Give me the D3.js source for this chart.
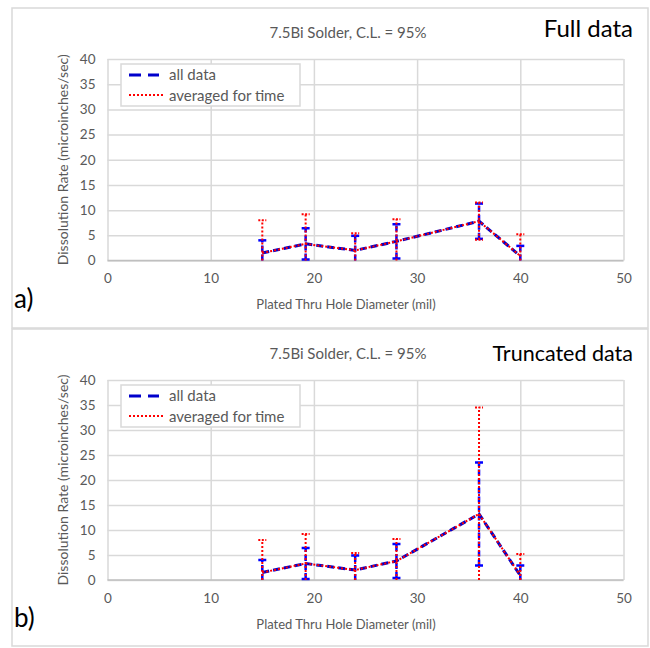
<!DOCTYPE html>
<html><head><meta charset="utf-8">
<script src="https://cdn.jsdelivr.net/npm/d3@7"></script>
<style>body{margin:0;background:#fff;} svg{display:block;}</style>
</head><body>
<script>
// ---- data ----
const xVals = [15, 19.2, 24, 28, 36, 40];
const meanFull = [1.5, 3.3, 2.0, 3.8, 7.8, 0.9];
const ciAllFull = [2.5, 3.1, 2.9, 3.4, 3.5, 2.0];
const ciAvgFull = [6.5, 5.9, 3.4, 4.4, 3.7, 4.3];
const meanTrunc = [1.5, 3.3, 2.0, 3.8, 13.2, 0.9];
const ciAllTrunc = [2.5, 3.1, 2.9, 3.4, 10.3, 2.0];
const ciAvgTrunc = [6.5, 5.9, 3.4, 4.4, 21.3, 4.3];
const xTicks = [0, 10, 20, 30, 40, 50];
const yTicks = [0, 5, 10, 15, 20, 25, 30, 35, 40];
const seriesNames = ["all data", "averaged for time"];
const chartTitle = "7.5Bi Solder, C.L. = 95%";
const panelTags = ["Full data", "Truncated data"];
const panelLetters = ["a)", "b)"];
const xLabel = "Plated Thru Hole Diameter (mil)";
const yLabel = "Dissolution Rate (microinches/sec)";

const W = 650, H = 648;
const FONT = "Lato, 'Open Sans', sans-serif";
const GRAY = "#595959";
const svg = d3.select("body").append("svg").attr("width", W).attr("height", H);

const panels = [
  {top: 8, bottom: 328, plotTop: 59, plotBottom: 260.5, mean: meanFull, ciAll: ciAllFull, ciAvg: ciAvgFull},
  {top: 329, bottom: 646, plotTop: 380, plotBottom: 580, mean: meanTrunc, ciAll: ciAllTrunc, ciAvg: ciAvgTrunc}
];

const plotLeft = 107.5, plotRight = 623.5;

panels.forEach((p, i) => {
  const g = svg.append("g");
  g.append("rect").attr("x", 12).attr("y", p.top).attr("width", 636).attr("height", p.bottom - p.top)
    .attr("fill", "#fff").attr("stroke", "#d9d9d9").attr("stroke-width", 1.5);

  const x = d3.scaleLinear().domain([0, 50]).range([plotLeft, plotRight]);
  const y = d3.scaleLinear().domain([0, 40]).range([p.plotBottom, p.plotTop]);

  // gridlines
  const gy = g.append("g").attr("transform", `translate(${plotLeft},0)`)
    .call(d3.axisLeft(y).tickValues(yTicks).tickSize(-(plotRight - plotLeft)).tickFormat(""));
  gy.select(".domain").remove();
  gy.selectAll("line").attr("stroke", "#d9d9d9").attr("stroke-width", 1.5);
  const gx = g.append("g").attr("transform", `translate(0,${p.plotTop})`)
    .call(d3.axisBottom(x).tickValues(xTicks).tickSize(p.plotBottom - p.plotTop).tickFormat(""));
  gx.select(".domain").remove();
  gx.selectAll("line").attr("stroke", "#d9d9d9").attr("stroke-width", 1.5);
  g.append("line").attr("x1", plotLeft).attr("x2", plotRight).attr("y1", y(0)).attr("y2", y(0))
    .attr("stroke", "#bfbfbf").attr("stroke-width", 1.5);

  // tick labels
  const ty = g.append("g").attr("transform", `translate(${plotLeft - 12},0)`)
    .call(d3.axisLeft(y).tickValues(yTicks).tickSize(0).tickPadding(0));
  ty.select(".domain").remove();
  ty.selectAll("text").attr("fill", GRAY).style("font-family", FONT).style("font-size", "13.5px");
  const tx = g.append("g").attr("transform", `translate(0,${p.plotBottom + 13})`)
    .call(d3.axisBottom(x).tickValues(xTicks).tickSize(0).tickPadding(0));
  tx.select(".domain").remove();
  tx.selectAll("text").attr("fill", GRAY).style("font-family", FONT).style("font-size", "13.5px");

  // titles
  g.append("text").attr("x", 348).attr("y", p.top + 25).attr("dy", "0.35em").attr("text-anchor", "middle")
    .attr("fill", GRAY).style("font-family", FONT).style("font-size", "15px").text(chartTitle);
  g.append("text").attr("x", 633).attr("y", p.top + (i === 0 ? 21 : 24)).attr("dy", "0.35em").attr("text-anchor", "end")
    .attr("fill", "#000").style("font-family", FONT).style("font-size", i === 0 ? "24px" : "21.5px").text(panelTags[i]);
  g.append("text").attr("x", 346).attr("y", p.plotBottom + 44).attr("dy", "0.35em").attr("text-anchor", "middle")
    .attr("fill", GRAY).style("font-family", FONT).style("font-size", "13px").text(xLabel);
  g.append("text").attr("transform", `translate(63,${(p.plotTop + p.plotBottom) / 2}) rotate(-90)`)
    .attr("dy", "0.35em").attr("text-anchor", "middle")
    .attr("fill", GRAY).style("font-family", FONT).style("font-size", "14px").text(yLabel);
  g.append("text").attr("x", 14).attr("y", p.plotBottom + 38).attr("dy", "0.35em")
    .attr("fill", "#000").style("font-family", FONT).style("font-size", "26px").text(panelLetters[i]);

  // series
  const pts = xVals.map((xv, k) => ({x: xv, m: p.mean[k], a: p.ciAll[k], v: p.ciAvg[k]}));
  const line = d3.line().x(d => x(d.x)).y(d => y(d.m));
  const capW = 4;
  function errBars(key, color, dash, width) {
    const eg = g.append("g");
    pts.forEach(d => {
      const lo = Math.max(0, d.m - d[key]), hi = d.m + d[key];
      eg.append("line").attr("x1", x(d.x)).attr("x2", x(d.x)).attr("y1", y(lo)).attr("y2", y(hi))
        .attr("stroke", color).attr("stroke-width", width).attr("stroke-dasharray", dash);
      [hi].concat(d.m - d[key] > 0 ? [lo] : []).forEach(v => {
        eg.append("line").attr("x1", x(d.x) - capW).attr("x2", x(d.x) + capW).attr("y1", y(v)).attr("y2", y(v))
          .attr("stroke", color).attr("stroke-width", width).attr("stroke-dasharray", dash === "2,2" ? "2,1.5" : null);
      });
    });
  }
  errBars("a", "#0000ff", "6,3", 2.5);
  g.append("path").datum(pts).attr("d", line).attr("fill", "none")
    .attr("stroke", "#0000cc").attr("stroke-width", 3).attr("stroke-dasharray", "7,4");
  errBars("v", "#ff0000", "2,2", 2);
  g.append("path").datum(pts).attr("d", line).attr("fill", "none")
    .attr("stroke", "#ff0000").attr("stroke-width", 2).attr("stroke-dasharray", "2,2");

  // legend
  const lg = g.append("g").attr("transform", `translate(121,${p.plotTop + 5})`);
  lg.append("rect").attr("width", 179).attr("height", 42).attr("fill", "#fff")
    .attr("stroke", "#d9d9d9").attr("stroke-width", 1.5);
  lg.append("line").attr("x1", 8).attr("x2", 38).attr("y1", 11).attr("y2", 11)
    .attr("stroke", "#0000cc").attr("stroke-width", 3).attr("stroke-dasharray", "12,7");
  lg.append("line").attr("x1", 8).attr("x2", 44).attr("y1", 31).attr("y2", 31)
    .attr("stroke", "#ff0000").attr("stroke-width", 2).attr("stroke-dasharray", "2,2");
  lg.selectAll("text.lt").data(seriesNames).enter().append("text")
    .attr("x", 48).attr("y", (d, k) => 11 + k * 20.5).attr("dy", "0.35em")
    .attr("fill", GRAY).style("font-family", FONT).style("font-size", "15px").text(d => d);
});
</script>
</body></html>
